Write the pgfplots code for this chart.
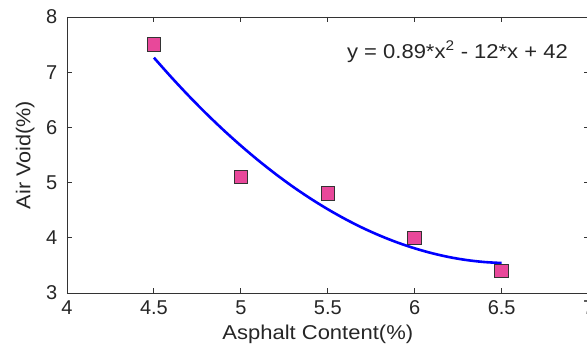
\documentclass[border=0pt]{standalone}
\usepackage{fontspec}
\setmainfont{Liberation Sans}
\usepackage{graphicx}
\usepackage{pgfplots}
\pgfplotsset{compat=1.18}
\definecolor{mkfill}{RGB}{232,72,154}
\begin{document}
\fontsize{20}{24}\selectfont
\begin{tikzpicture}
\begin{axis}[
  scale only axis,
  width=521.6pt, height=276pt,
  xmin=4, xmax=7, ymin=3, ymax=8,
  xtick={4,4.5,5,5.5,6,6.5,7},
  xticklabels={4,4.5,5,5.5,6,6.5,7},
  ytick={3,4,5,6,7,8},
  tick align=inside,
  major tick length=5pt,
  axis line style={line width=0.9pt, black!80},
  every tick/.style={line width=0.9pt, black!80},
  /pgf/number format/assume math mode=true,
  tick label style={font=\fontsize{20}{24}\selectfont, text=black!85},
  xticklabel style={yshift=-1pt},
  yticklabel style={xshift=-3pt},
  label style={font=\fontsize{20}{24}\selectfont, text=black!85},
  xlabel={\scalebox{1.1}[1]{Asphalt Content(\%)}},
  ylabel={\scalebox{1.08}[1]{Air Void(\%)}},
  xlabel style={yshift=4pt, xshift=-10pt},
  ylabel style={yshift=-2pt},
  clip=false,
]
\addplot[blue, line width=2.6pt, smooth] coordinates {
 (4.5,7.263) (4.6,6.909) (4.7,6.572) (4.8,6.253) (4.9,5.952) (5.0,5.669)
 (5.1,5.403) (5.2,5.155) (5.3,4.924) (5.4,4.712) (5.5,4.517) (5.6,4.340)
 (5.7,4.180) (5.8,4.039) (5.9,3.915) (6.0,3.809) (6.1,3.720) (6.2,3.649)
 (6.3,3.596) (6.4,3.561) (6.5,3.543)
};
\addplot[only marks, mark=square*, mark size=6.8pt,
  mark options={fill=mkfill, draw=black!80, line width=0.9pt}] coordinates {
 (4.5,7.5) (5.0,5.1) (5.5,4.8) (6.0,4.0) (6.5,3.4)
};
\node[anchor=west, inner sep=0pt, text=black!85] at (axis cs:5.61,7.37)
  {\scalebox{1.1}[1]{y = 0.89*x\textsuperscript{2} - 12*x + 42}};
\end{axis}
\pgfresetboundingbox
\path[use as bounding box]
  ([xshift=-67pt,yshift=-59pt]current axis.south west)
  rectangle ([xshift=-1.6pt,yshift=17pt]current axis.north east);
\end{tikzpicture}
\end{document}
